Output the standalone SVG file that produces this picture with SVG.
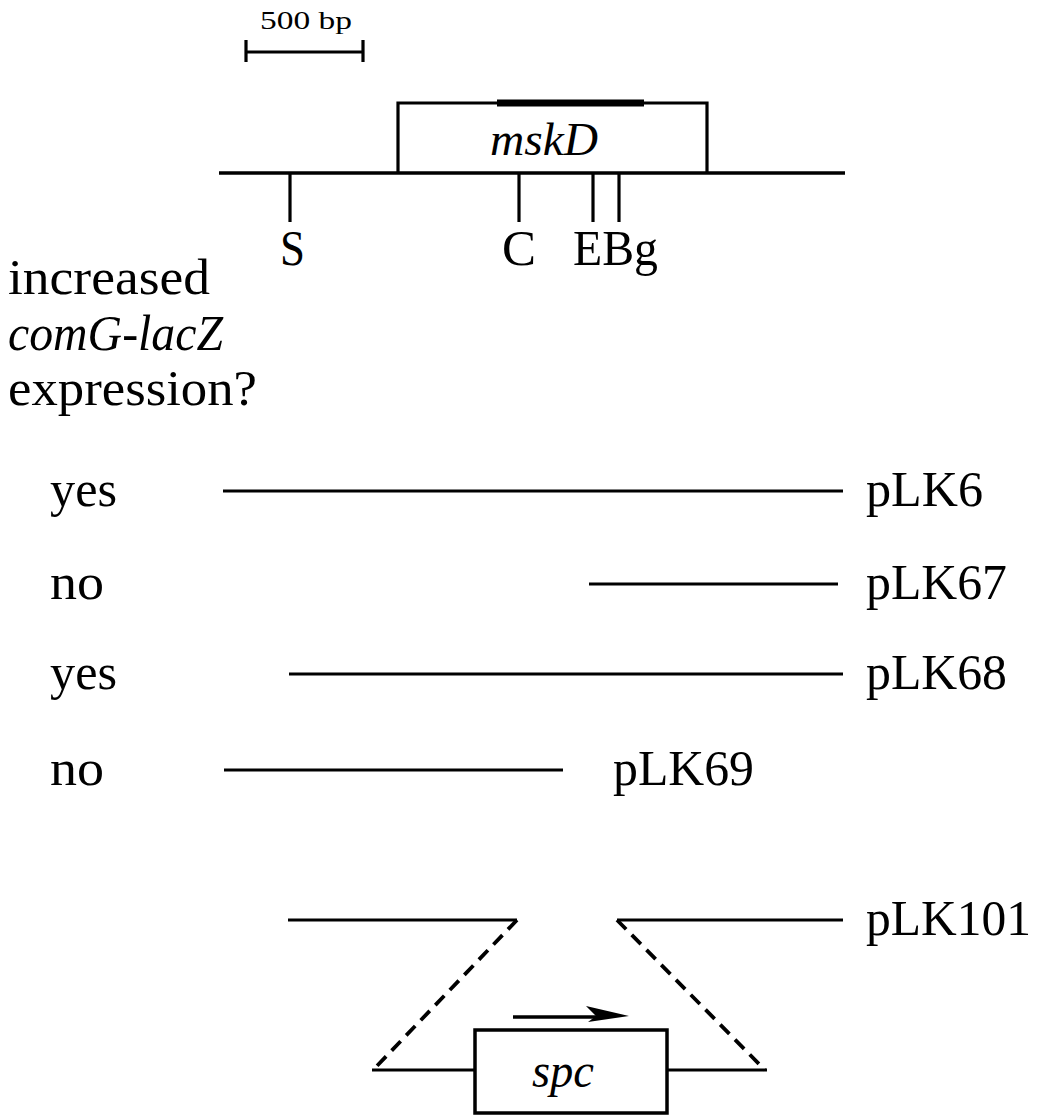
<svg xmlns="http://www.w3.org/2000/svg" width="1040" height="1115" viewBox="0 0 1040 1115">
<defs>
<style>
.t{font-family:"Liberation Serif","Times New Roman",serif;font-size:50px;fill:#000}
.i{font-style:italic}
.ln{stroke:#000;stroke-width:3.2;fill:none}
.dash{stroke:#000;stroke-width:3.8;fill:none;stroke-dasharray:13 8}
</style>
</defs>
<rect width="1040" height="1115" fill="#fff"/>

<g id="scalebar">
<line class="ln" x1="245" y1="52" x2="363" y2="52"/>
<line class="ln" x1="246" y1="40" x2="246" y2="62"/>
<line class="ln" x1="363" y1="40" x2="363" y2="62"/>
<text class="t" x="260" y="29" style="font-size:25px" textLength="92" lengthAdjust="spacingAndGlyphs">500 bp</text>
</g>

<g id="map">
<line x1="219" y1="173" x2="845" y2="173" stroke="#000" stroke-width="3.5"/>
<path class="ln" d="M398,173 V103 H707 V173"/>
<line x1="497" y1="103" x2="644" y2="103" stroke="#000" stroke-width="7"/>
<text class="t i" x="490" y="155" style="font-size:46px" textLength="108" lengthAdjust="spacingAndGlyphs">mskD</text>
<line class="ln" x1="290" y1="173" x2="290" y2="222"/>
<line class="ln" x1="519" y1="173" x2="519" y2="222"/>
<line class="ln" x1="593" y1="173" x2="593" y2="222"/>
<line class="ln" x1="619" y1="173" x2="619" y2="222"/>
<text class="t" x="280" y="265" textLength="25" lengthAdjust="spacingAndGlyphs">S</text>
<text class="t" x="502" y="265" textLength="34" lengthAdjust="spacingAndGlyphs">C</text>
<text class="t" x="573" y="265" textLength="85" lengthAdjust="spacingAndGlyphs">EBg</text>
</g>

<g id="question">
<text class="t" x="8" y="294" textLength="202" lengthAdjust="spacingAndGlyphs">increased</text>
<text class="t i" x="8" y="350" textLength="215" lengthAdjust="spacingAndGlyphs">comG-lacZ</text>
<text class="t" x="8" y="405" textLength="249" lengthAdjust="spacingAndGlyphs">expression?</text>
</g>

<g id="pLK6">
<text class="t" x="50" y="506" textLength="67" lengthAdjust="spacingAndGlyphs">yes</text>
<line class="ln" x1="223" y1="491" x2="843" y2="491"/>
<text class="t" x="866" y="506" textLength="117" lengthAdjust="spacingAndGlyphs">pLK6</text>
</g>
<g id="pLK67">
<text class="t" x="50" y="599" textLength="54" lengthAdjust="spacingAndGlyphs">no</text>
<line class="ln" x1="589" y1="584" x2="838" y2="584"/>
<text class="t" x="866" y="599" textLength="141" lengthAdjust="spacingAndGlyphs">pLK67</text>
</g>
<g id="pLK68">
<text class="t" x="50" y="689" textLength="67" lengthAdjust="spacingAndGlyphs">yes</text>
<line class="ln" x1="289" y1="674" x2="843" y2="674"/>
<text class="t" x="866" y="689" textLength="141" lengthAdjust="spacingAndGlyphs">pLK68</text>
</g>
<g id="pLK69">
<text class="t" x="50" y="785" textLength="54" lengthAdjust="spacingAndGlyphs">no</text>
<line class="ln" x1="224" y1="770" x2="563" y2="770"/>
<text class="t" x="613" y="785" textLength="141" lengthAdjust="spacingAndGlyphs">pLK69</text>
</g>
<g id="pLK101">
<line class="ln" x1="288" y1="920" x2="517" y2="920"/>
<line class="ln" x1="617" y1="920" x2="843" y2="920"/>
<text class="t" x="866" y="935" textLength="165" lengthAdjust="spacingAndGlyphs">pLK101</text>
</g>

<g id="spc">
<rect x="475" y="1030" width="192" height="83" fill="none" stroke="#000" stroke-width="3.5"/>
<text class="t i" x="532" y="1087" style="font-size:48px" textLength="62" lengthAdjust="spacingAndGlyphs">spc</text>
</g>

<g id="connectors">
<path class="dash" d="M517,920 L373,1070"/>
<path class="dash" d="M617,920 L765,1070"/>
<line class="ln" x1="372" y1="1070" x2="475" y2="1070"/>
<line class="ln" x1="667" y1="1070" x2="767" y2="1070"/>
<line x1="513" y1="1017" x2="600" y2="1017" stroke="#000" stroke-width="3.5"/>
<path d="M629,1016 L586,1006 L596,1016 L588,1022 Z" fill="#000"/>
</g>
</svg>
